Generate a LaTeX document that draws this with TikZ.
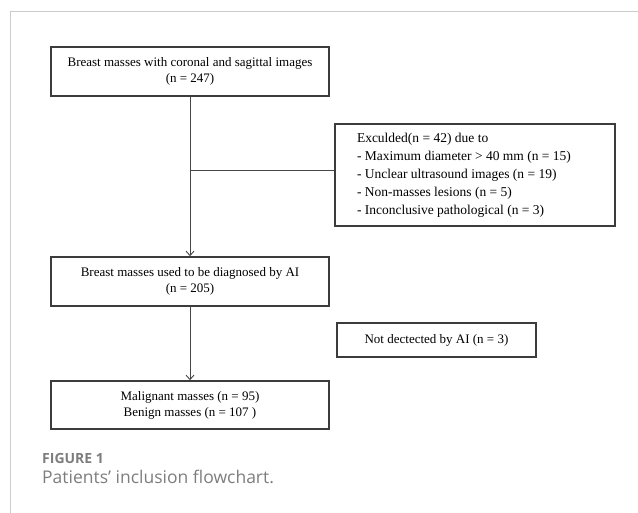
\documentclass[tikz,border=0pt]{standalone}
\usepackage{fontspec}
\setmainfont{Liberation Serif}
\newfontfamily\capfont{Open Sans}
\usetikzlibrary{arrows.meta}
\definecolor{framegray}{RGB}{204,204,204}
\definecolor{boxgray}{RGB}{60,60,60}
\definecolor{linegray}{RGB}{70,70,70}
\definecolor{capgray}{RGB}{125,125,125}
\tikzset{
  flowbox/.style={draw=boxgray, line width=1.5pt, rectangle, inner sep=0pt,
    align=center, font=\fontsize{13}{16}\selectfont, text=black},
  conn/.style={draw=linegray, line width=1pt},
  arr/.style={conn, -{Straight Barb[length=4.5pt,width=8pt,line width=0.9pt]}},
  frameline/.style={draw=framegray, line width=1pt}
}
\begin{document}
\begin{tikzpicture}[x=1pt,y=-1pt]
\useasboundingbox (0,0) rectangle (638,513);
\draw[frameline] (10,12) -- (638,12);
\draw[frameline] (10,12) -- (10,513);

\node[flowbox, minimum width=278pt, minimum height=49pt] (b1) at (190,71.5)
  {Breast masses with coronal and sagittal images\\(n = 247)};
\node[flowbox, minimum width=280pt, minimum height=102pt] (excl) at (475,175)
  {\parbox[c][102pt][t]{236pt}{\raggedright\fontsize{13.5}{18}\selectfont\vspace{9.5pt}
   Exculded(n = 42) due to\\
   - Maximum diameter > 40 mm (n = 15)\\
   - Unclear ultrasound images (n = 19)\\
   - Non-masses lesions (n = 5)\\
   - Inconclusive pathological (n = 3)}};
\node[flowbox, minimum width=278pt, minimum height=49pt] (b2) at (190,281.5)
  {Breast masses used to be diagnosed by AI\\(n = 205)};
\node[flowbox, minimum width=199pt, minimum height=34pt] (nd) at (436.5,340)
  {Not dectected by AI (n = 3)};
\node[flowbox, minimum width=278pt, minimum height=48pt] (b3) at (190,405)
  {Malignant masses (n = 95)\\Benign masses (n = 107 )};

\draw[arr] (b1.south) -- (b2.north);
\coordinate (j) at (190,171);
\draw[conn] (j) -- (j -| excl.west);
\draw[arr] (b2.south) -- (b3.north);

\node[anchor=base west, inner sep=0pt, text=capgray, font=\capfont\bfseries\fontsize{14}{16}\selectfont] (fig) at (42,464) {FIGURE 1};
\node[anchor=base west, inner sep=0pt, text=capgray, font=\capfont\fontsize{17.5}{20}\selectfont] (cap) at (42,483.5) {Patients’ inclusion flowchart.};
\end{tikzpicture}
\end{document}
